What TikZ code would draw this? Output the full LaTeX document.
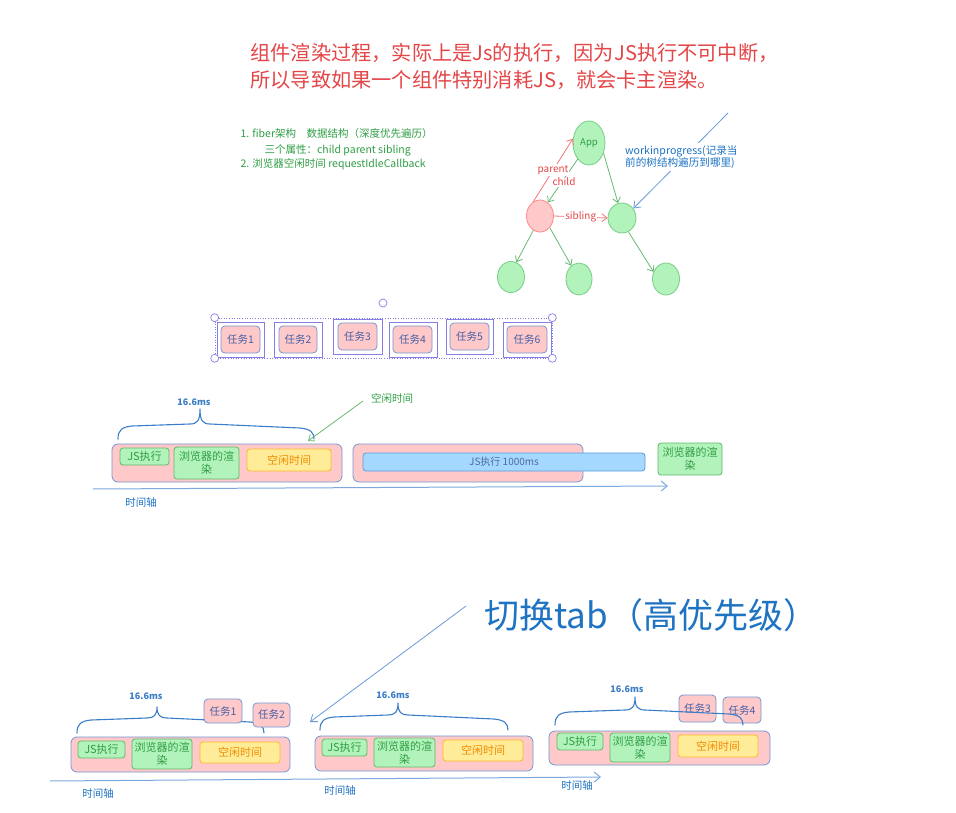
\documentclass[tikz,border=0pt]{standalone}
\usepackage{fontspec}
\setmainfont{Noto Sans CJK SC}
\usetikzlibrary{arrows.meta,shapes.geometric}
\definecolor{redtxt}{RGB}{228,70,72}
\definecolor{greentxt}{RGB}{47,158,68}
\definecolor{bluetxt}{RGB}{30,115,195}
\definecolor{braceblue}{RGB}{60,125,200}
\definecolor{pinkfill}{RGB}{255,201,201}
\definecolor{contdraw}{RGB}{115,150,210}
\definecolor{greenfill}{RGB}{178,242,187}
\definecolor{greendraw}{RGB}{95,185,105}
\definecolor{yellowfill}{RGB}{255,236,153}
\definecolor{yellowdraw}{RGB}{250,185,40}
\definecolor{orangetxt}{RGB}{240,140,0}
\definecolor{barfill}{RGB}{165,216,255}
\definecolor{bardraw}{RGB}{90,155,225}
\definecolor{bartxt}{RGB}{80,105,160}
\definecolor{taskdraw}{RGB}{120,150,205}
\definecolor{tasktxt}{RGB}{70,95,165}
\definecolor{selpurple}{RGB}{135,125,230}
\definecolor{garrowc}{RGB}{105,185,115}
\definecolor{rarrowc}{RGB}{240,120,120}
\definecolor{axisc}{RGB}{125,168,220}
\definecolor{larrowc}{RGB}{105,155,218}
\definecolor{pnodedraw}{RGB}{255,135,135}
\definecolor{gnodedraw}{RGB}{120,205,135}
\begin{document}
\begin{tikzpicture}[x=1pt,y=-1pt,
  sz/.style 2 args={minimum width=#1, minimum height=#2},
  box/.style={rounded corners=3pt, line width=0.8pt, align=center, inner sep=0pt, font=\fontsize{11}{13}\selectfont},
  cont/.style={box, fill=pinkfill, draw=contdraw, rounded corners=6pt},
  gbox/.style={box, fill=greenfill, draw=greendraw, text=greentxt},
  ybox/.style={box, fill=yellowfill, draw=yellowdraw, text=orangetxt},
  barbox/.style={box, fill=barfill, draw=bardraw, text=bartxt, font=\fontsize{10}{12}\selectfont},
  taskbox/.style={box, fill=pinkfill, draw=taskdraw, text=tasktxt, rounded corners=4pt, font=\fontsize{10.5}{12}\selectfont},
  taskframe/.style={draw=selpurple, line width=0.8pt, inner sep=0pt},
  handle/.style={circle, draw=selpurple, fill=white, line width=0.7pt, minimum size=8pt, inner sep=0pt},
  gnode/.style={ellipse, fill=greenfill, draw=gnodedraw, line width=0.8pt, inner sep=0pt, text=greentxt, font=\fontsize{9.5}{11}\selectfont},
  pnode/.style={ellipse, fill=pinkfill, draw=pnodedraw, line width=0.8pt, inner sep=0pt},
  garrow/.style={draw=garrowc, line width=0.8pt, -{Straight Barb[length=5pt,width=8pt]}},
  rarrow/.style={draw=rarrowc, line width=0.8pt, -{Straight Barb[length=5pt,width=8pt]}},
  larrow/.style={draw=larrowc, line width=0.8pt, -{Straight Barb[length=6pt,width=9pt]}},
  axis/.style={draw=axisc, line width=1pt, -{Straight Barb[length=6pt,width=10pt]}},
  brace/.style={draw=braceblue, line width=1.1pt, line cap=round, line join=round},
  mslbl/.style={text=braceblue, font=\fontsize{9}{10}\selectfont\bfseries},
  axlbl/.style={text=bluetxt, font=\fontsize{10.5}{12}\selectfont},
  redlbl/.style={text=redtxt, font=\fontsize{10}{11}\selectfont, fill=white, inner sep=1pt},
  greentext/.style={text=greentxt, font=\fontsize{10.5}{12}\selectfont, anchor=west},
]
\useasboundingbox (0,0) rectangle (956,813);
\fill[white] (0,0) rectangle (956,813);

\newcommand\tlbrace[5]{\draw[brace] (#1,#4) .. controls (#1,#4-9) and (#1+4,#4-12) .. (#1+14,#4-13) -- (#3-10,#4-15) .. controls (#3-3,#4-15) and (#3,#4-18) .. (#3,#5) .. controls (#3,#4-18) and (#3+3,#4-15) .. (#3+10,#4-15) -- (#2-14,#4-11) .. controls (#2-4,#4-10) and (#2,#4-7) .. (#2,#4);}

% ---------- title ----------
\node[anchor=west, text=redtxt, font=\fontsize{20.2}{22}\selectfont] (title1) at (247,53) {组件渲染过程，实际上是Js的执行，因为JS执行不可中断，};
\node[anchor=west, text=redtxt, font=\fontsize{20.2}{22}\selectfont] (title2) at (247,80) {所以导致如果一个组件特别消耗JS，就会卡主渲染。};

% ---------- fiber notes ----------
\node[greentext] (f1) at (237,134) {1. fiber架构\quad 数据结构（深度优先遍历）};
\node[greentext] (f2) at (261,150) {三个属性：child parent sibling};
\node[greentext] (f3) at (237,164) {2. 浏览器空闲时间 requestIdleCallback};

% ---------- tree ----------
\node[gnode, sz={32}{44}] (app) at (589,143) {App};
\node[pnode, sz={27}{32}] (pk) at (540,216) {};
\node[gnode, sz={28}{30}] (rn) at (622,218) {};
\node[gnode, sz={27}{31}] (bl) at (511,277) {};
\node[gnode, sz={26}{32}] (bm) at (579,279) {};
\node[gnode, sz={27}{32}] (br) at (666,279) {};

\draw[rarrow] (pk.115) -- (app.165);
\draw[garrow] (app.235) -- (pk.60);
\draw[garrow] (app.-35) -- (rn.105);
\draw[garrow] (pk.-115) -- (bl.70);
\draw[garrow] (pk.-50) -- (bm.120);
\draw[garrow] (rn.-65) -- (br.150);
\draw[rarrow] (pk.east) -- (rn.west) node[midway, redlbl] (sib) {sibling};
\node[redlbl] (par) at (553,170) {parent};
\node[redlbl] (chi) at (564,182) {child};

\coordinate (wips) at (728,113);
\draw[larrow] (wips) -- (rn.40);
\node[anchor=north west, align=left, text=bluetxt, fill=white, inner sep=2pt, font=\fontsize{10.6}{12.5}\selectfont] (wip) at (623,143) {workinprogress(记录当\\前的树结构遍历到哪里)};

% ---------- task row ----------
\node[draw=selpurple, dotted, line width=0.6pt, sz={337}{40}] (sel) at (383.5,338) {};
\node[taskframe, sz={47}{35}] (o1) at (240.5,339.5) {};
\node[taskframe, sz={48}{35}] (o2) at (298,339.5) {};
\node[taskframe, sz={49}{35}] (o3) at (357.5,336.5) {};
\node[taskframe, sz={48}{35}] (o4) at (413,339.5) {};
\node[taskframe, sz={47}{35}] (o5) at (469.5,336.5) {};
\node[taskframe, sz={48}{35}] (o6) at (527,339.5) {};
\node[taskbox, sz={39}{27}] (k1) at (240.5,339.5) {任务1};
\node[taskbox, sz={38}{27}] (k2) at (298,339.5) {任务2};
\node[taskbox, sz={39}{27}] (k3) at (357.5,336.5) {任务3};
\node[taskbox, sz={39}{27}] (k4) at (412.5,339.5) {任务4};
\node[taskbox, sz={39}{27}] (k5) at (469.5,336.5) {任务5};
\node[taskbox, sz={40}{27}] (k6) at (527,339.5) {任务6};
\node[handle] (h1) at (sel.north west) {};
\node[handle] (h2) at (sel.north east) {};
\node[handle] (h3) at (sel.south west) {};
\node[handle] (h4) at (sel.south east) {};
\node[handle] (h5) at (383,303) {};

% ---------- timeline 1 ----------
\tlbrace{118}{314}{200}{439}{409}
\node[mslbl] (ms1) at (194,402) {16.6ms};
\node[text=greentxt, font=\fontsize{10.5}{12}\selectfont] (idlelbl) at (392,398) {空闲时间};
\coordinate (idles) at (363,401);
\coordinate (idlee) at (308,441);
\draw[garrow] (idles) -- (idlee);

\node[cont, sz={230}{38}] (c1) at (227,463) {};
\node[gbox, sz={49}{17}] (js1) at (144.5,456.5) {JS执行};
\node[gbox, sz={65}{32}] (r1) at (206.5,463) {浏览器的渲\\染};
\node[ybox, sz={84}{22}] (i1) at (289,460) {空闲时间};
\node[cont, sz={230}{38}] (c2) at (468,463) {};
\node[barbox, sz={282}{18}] (bar) at (504,462) {JS执行 1000ms};
\node[gbox, sz={64}{32}] (r2) at (690,459) {浏览器的渲\\染};

\coordinate (ax1s) at (93,489);
\coordinate (ax1e) at (668,486);
\draw[axis] (ax1s) -- (ax1e);
\node[axlbl] (ax1l) at (141,503) {时间轴};

% ---------- switch tab ----------
\node[anchor=west, text=bluetxt, font=\fontsize{35}{38}\selectfont] (tab) at (481,615) {切换tab（高优先级）};
\coordinate (tabs) at (466,606);
\coordinate (tabe) at (310,722);
\draw[larrow] (tabs) -- (tabe);

% ---------- bottom timeline 1 ----------
\tlbrace{77}{264}{157}{733}{707}
\node[mslbl] (ms2) at (146,696) {16.6ms};
\node[taskbox, draw=contdraw, sz={38}{24}] (b1t1) at (223,711) {任务1};
\node[taskbox, draw=contdraw, sz={37}{24}] (b1t2) at (271.5,715) {任务2};
\node[cont, sz={219}{35}] (bc1) at (180.5,754.5) {};
\node[gbox, sz={47}{17}] (bj1) at (101.5,749.5) {JS执行};
\node[gbox, sz={60}{30}] (br1) at (162,754) {浏览器的渲\\染};
\node[ybox, sz={80}{21}] (bi1) at (240,752.5) {空闲时间};

% ---------- bottom timeline 2 ----------
\tlbrace{320}{508}{398}{730}{703}
\node[mslbl] (ms3) at (393,695) {16.6ms};
\node[cont, sz={218}{35}] (bc2) at (424,753.5) {};
\node[gbox, sz={45}{17}] (bj2) at (344.5,747.5) {JS执行};
\node[gbox, sz={61}{29}] (br2) at (404.5,752.5) {浏览器的渲\\染};
\node[ybox, sz={80}{21}] (bi2) at (483,750.5) {空闲时间};

% ---------- bottom timeline 3 ----------
\node[taskbox, draw=contdraw, sz={37}{27}] (b3t3) at (697.5,708.5) {任务3};
\node[taskbox, draw=contdraw, sz={38}{26}] (b3t4) at (742,710) {任务4};
\tlbrace{555}{743}{635}{725}{697}
\node[mslbl] (ms4) at (627,689) {16.6ms};
\node[cont, sz={221}{34}] (bc3) at (659.5,748) {};
\node[gbox, sz={46}{17}] (bj3) at (580,741.5) {JS执行};
\node[gbox, sz={60}{29}] (br3) at (640,747.5) {浏览器的渲\\染};
\node[ybox, sz={80}{22}] (bi3) at (718,746) {空闲时间};

\coordinate (ax2s) at (50,781);
\coordinate (ax2e) at (601,777);
\draw[axis] (ax2s) -- (ax2e);
\node[axlbl] (ax2l) at (98,794) {时间轴};
\node[axlbl] (ax3l) at (340,791) {时间轴};
\node[axlbl] (ax4l) at (577,786) {时间轴};
\end{tikzpicture}
\end{document}
